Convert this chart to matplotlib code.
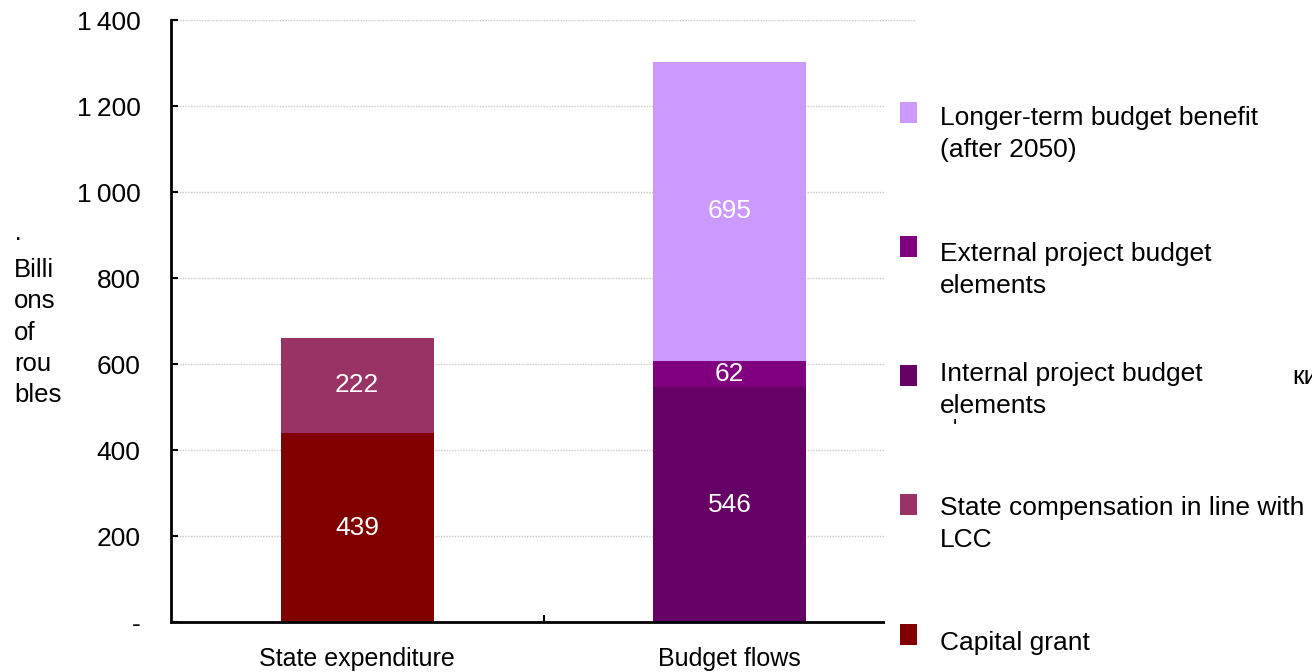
import matplotlib
matplotlib.use("Agg")
import matplotlib.pyplot as plt
from matplotlib.patches import Rectangle

plt.rcParams['font.family'] = ['Liberation Sans', 'DejaVu Sans']

categories = ["State expenditure", "Budget flows"]
series_names = ["Capital grant", "State compensation in line with\nLCC",
                "Internal project budget\nelements", "External project budget\nelements",
                "Longer-term budget benefit\n(after 2050)"]
capital_grant = [439, 0]
state_comp = [222, 0]
internal = [0, 546]
external = [0, 62]
longer_term = [0, 695]
colors = ["#800000", "#993366", "#660066", "#800080", "#CC99FF"]
yticks = [0, 200, 400, 600, 800, 1000, 1200, 1400]
yticklabels = ["-", "200", "400", "600", "800", "1\u2009000", "1\u2009200", "1\u2009400"]

W, H = 1312, 672
fig = plt.figure(figsize=(W / 100, H / 100), dpi=100)
ax = fig.add_axes([171 / W, 1 - 622 / H, (916 - 171) / W, (622 - 20) / H])

series = [capital_grant, state_comp, internal, external, longer_term]
x = list(range(len(categories)))
bottom = [0, 0]
for vals, c in zip(series, colors):
    ax.bar(x, vals, width=0.41, bottom=bottom, color=c, zorder=2)
    for xi, v, b in zip(x, vals, bottom):
        if v > 0:
            ax.text(xi, b + v / 2, str(v), ha='center', va='center', color='white', fontsize=19, zorder=3)
    bottom = [b + v for b, v in zip(bottom, vals)]

ax.set_xlim(-0.5, 1.5)
ax.set_ylim(0, 1400)
ax.set_yticks(yticks)
ax.set_yticklabels(yticklabels, fontsize=19)
ax.set_xticks([0.5])
ax.set_xticklabels([""])
ax.tick_params(axis='x', direction='in', length=5, width=1.5)
ax.tick_params(axis='y', direction='in', length=5, width=1.5, pad=22)
for i, c in enumerate(categories):
    ax.text(i, -0.042, c, transform=ax.get_xaxis_transform(), ha='center', va='top', fontsize=18)
ax.yaxis.grid(True, color='#c8c8c8', linestyle=(0, (1, 1)), linewidth=1, zorder=0)
for s in ['top', 'right']:
    ax.spines[s].set_visible(False)
ax.spines['left'].set_linewidth(2)
ax.spines['bottom'].set_linewidth(2)
ax.spines['left'].set_zorder(4)
ax.spines['bottom'].set_zorder(4)

fig.text(14 / W, 1 - 317 / H, "\u00b7\nBilli\nons\nof\nrou\nbles", ha='left', va='center',
         fontsize=18.5, linespacing=1.38)

# legend area (white box covering the plot's right end)
fig.patches.append(Rectangle((885 / W, 0), 1 - 885 / W, 1 - 40 / H, transform=fig.transFigure,
                             facecolor='white', edgecolor='none', zorder=1))
patch_tops = [624, 494, 365, 236, 102]
text_y = [641, 506, 372, 252, 116]
for name, c, pt, ty in zip(series_names, colors, patch_tops, text_y):
    fig.patches.append(Rectangle((900 / W, 1 - (pt + 21) / H), 17 / W, 21 / H, transform=fig.transFigure,
                                 facecolor=c, edgecolor='none', zorder=2))
    fig.text(940 / W, 1 - (ty - 10) / H, name, ha='left', va='top', fontsize=19, linespacing=1.4,
             zorder=3)

fig.text(1292 / W, 1 - 377 / H, "ки", fontsize=19, va='center', ha='left', zorder=3)
fig.text(955 / W, 1 - 428 / H, "'", fontsize=16, va='center', ha='center', zorder=3)

fig.savefig("out.png", dpi=100)
